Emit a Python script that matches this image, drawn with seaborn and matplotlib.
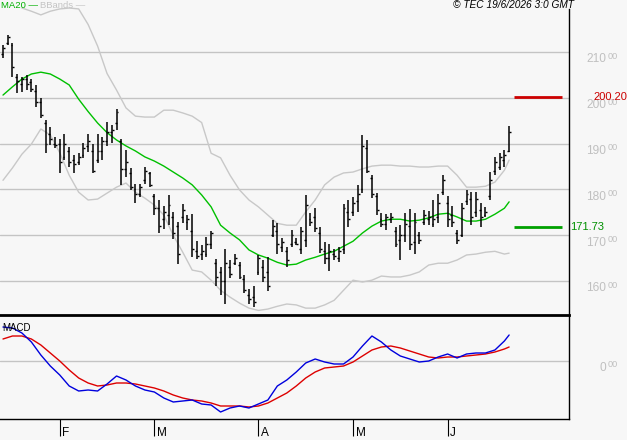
import numpy as np
import pandas as pd
import matplotlib
matplotlib.use("Agg")
import matplotlib.pyplot as plt
import matplotlib.transforms as mtransforms
import seaborn as sns

sns.set_style("white")
plt.rcParams['font.family'] = ['Liberation Sans', 'DejaVu Sans']

# ---------------- data (trading-day index 0 = 15 Jan 2026) ----------------
high = [211.5, 213.8, 211.9, 205.3, 204.6, 205.0, 204.2, 202.9, 199.9, 195.1,
        193.7, 191.5, 191.1, 192.0, 189.2, 187.5, 188.0, 190.1, 192.2, 189.9,
        192.1, 191.5, 194.7, 194.1, 197.5, 191.1, 188.6, 184.6, 181.3, 181.3,
        185.0, 183.9, 178.9, 177.8, 176.4, 178.8, 175.1, 172.8, 176.9, 174.4,
        174.6, 168.8, 167.9, 169.7, 171.0, 164.9, 163.1, 167.1, 164.6, 166.0,
        164.2, 161.3, 158.2, 158.9, 165.7, 164.6, 165.3, 173.3, 172.6, 169.3,
        167.5, 171.1, 169.3, 171.9, 178.8, 174.8, 175.9, 171.9, 168.6, 168.1,
        167.1, 167.5, 176.9, 177.7, 178.4, 180.9, 191.9, 190.8, 183.1, 179.3,
        174.8, 174.6, 174.8, 171.9, 172.2, 174.8, 175.7, 174.8, 170.8, 175.5,
        175.3, 177.8, 178.9, 183.1, 178.6, 176.4, 171.1, 177.1, 179.9, 179.5,
        179.5, 177.0, 176.2, 183.9, 187.1, 188.0, 188.6, 193.8]
low = [208.8, 211.6, 204.6, 201.0, 201.3, 201.7, 201.3, 198.1, 195.5, 187.9,
       189.7, 189.0, 183.7, 186.4, 184.8, 183.5, 185.3, 186.8, 188.2, 183.5,
       185.7, 186.4, 189.5, 190.1, 193.0, 181.0, 182.8, 179.9, 177.0, 178.3,
       181.3, 180.5, 174.4, 170.4, 171.3, 172.2, 169.1, 163.7, 172.6, 171.1,
       165.3, 164.9, 164.6, 165.3, 167.1, 158.9, 156.9, 155.1, 160.6, 163.5,
       160.4, 157.3, 155.1, 154.4, 161.3, 159.9, 157.9, 169.7, 166.0, 166.4,
       163.1, 167.5, 167.9, 166.0, 167.5, 172.0, 170.8, 166.2, 163.7, 162.3,
       164.7, 164.2, 165.9, 171.7, 174.2, 175.1, 179.3, 183.5, 178.1, 174.4,
       171.9, 171.1, 172.6, 167.5, 164.7, 168.6, 166.8, 166.0, 168.2, 172.2,
       172.2, 171.7, 172.6, 178.8, 171.7, 171.9, 168.0, 169.7, 176.6, 172.2,
       174.0, 171.7, 174.0, 177.7, 183.1, 184.2, 184.9, 188.2]
open_ = [209.5, 212.0, 211.5, 204.5, 203.0, 204.0, 203.5, 201.5, 199.0, 194.5,
         192.0, 190.0, 190.0, 187.0, 188.5, 186.5, 186.0, 187.5, 189.5, 188.5,
         186.5, 188.5, 190.5, 192.5, 194.5, 190.5, 184.5, 183.5, 180.0, 179.0,
         182.0, 183.5, 178.5, 176.0, 173.5, 174.5, 174.0, 172.0, 174.0, 173.0,
         171.0, 166.5, 166.0, 166.0, 168.0, 164.0, 162.0, 160.0, 163.0, 164.0,
         163.5, 160.5, 157.0, 156.5, 162.0, 163.0, 162.0, 170.0, 171.0, 167.5,
         166.5, 168.0, 168.5, 167.0, 169.0, 173.5, 174.0, 170.5, 166.5, 165.0,
         166.0, 165.0, 167.0, 175.0, 175.0, 177.5, 180.0, 189.0, 182.5, 178.5,
         173.5, 172.5, 173.5, 171.0, 169.0, 170.0, 172.0, 168.5, 170.0, 173.0,
         173.5, 172.5, 174.0, 179.5, 177.0, 174.5, 170.5, 170.0, 177.5, 178.0,
         175.0, 175.5, 174.5, 178.5, 184.0, 185.0, 186.5, 188.5]
close = [210.8, 213.2, 206.7, 203.6, 204.0, 203.0, 202.0, 199.0, 196.3, 190.0,
         191.0, 189.8, 186.0, 190.0, 186.0, 185.5, 187.0, 189.0, 190.5, 184.0,
         188.5, 190.5, 192.5, 193.0, 197.0, 184.5, 186.0, 180.5, 179.0, 180.5,
         184.0, 181.0, 176.0, 172.0, 175.0, 176.5, 170.5, 166.0, 175.5, 173.5,
         167.0, 165.5, 166.5, 168.0, 170.5, 161.0, 160.0, 164.0, 161.5, 165.0,
         161.0, 158.0, 156.0, 155.5, 165.0, 161.0, 159.0, 172.0, 168.0, 168.5,
         164.5, 170.0, 168.2, 171.0, 176.5, 173.0, 171.5, 167.0, 165.0, 166.5,
         165.5, 166.5, 176.0, 173.5, 177.0, 179.0, 189.5, 184.0, 179.0, 175.5,
         172.5, 174.0, 174.0, 168.0, 170.0, 172.5, 168.0, 173.0, 169.0, 174.5,
         174.0, 173.5, 177.0, 182.0, 173.5, 173.0, 169.0, 176.0, 179.0, 174.0,
         178.0, 174.0, 175.0, 182.0, 186.0, 187.0, 187.5, 192.5]

# indicator samples (every second trading day)
ind_x = [0, 2, 4, 6, 8, 10, 12, 14, 16, 18, 20, 22, 24, 26, 28, 30, 32, 34, 36,
         38, 40, 42, 44, 46, 48, 50, 52, 54, 56, 58, 60, 62, 64, 66, 68, 70, 72,
         74, 76, 78, 80, 82, 84, 86, 88, 90, 92, 94, 96, 98, 100, 102, 104, 106, 107]
ma20 = [200.6, 202.4, 204.1, 205.2, 205.6, 205.2, 204.1, 202.8, 199.7, 197.0,
        194.5, 192.4, 190.8, 189.5, 188.4, 187.1, 186.2, 185.1, 183.8, 182.5,
        181.0, 178.8, 176.2, 172.2, 170.5, 169.0, 166.8, 165.7, 165.0, 164.1,
        163.5, 163.7, 164.6, 165.2, 165.9, 166.5, 167.6, 168.7, 170.5, 172.0,
        173.1, 173.5, 173.5, 173.1, 173.3, 173.8, 174.6, 174.8, 174.0, 173.1,
        173.1, 173.5, 174.6, 175.9, 177.3]
bb_up = [None, None, 219.6, 218.9, 218.1, 218.9, 219.4, 219.6, 219.4, 216.0,
         211.3, 205.3, 201.7, 197.8, 196.0, 195.8, 195.8, 197.3, 197.3, 196.7,
         196.0, 194.6, 187.9, 186.9, 183.1, 179.9, 177.7, 176.2, 174.4, 172.6,
         172.2, 172.2, 175.1, 177.7, 181.0, 182.7, 183.6, 183.8, 184.5, 185.1,
         185.3, 185.3, 185.1, 185.1, 184.9, 184.9, 185.1, 185.1, 183.1, 180.5,
         180.5, 180.7, 181.6, 184.2, 186.4]
bb_low = [182.0, 184.7, 187.7, 189.9, 193.2, 191.9, 188.0, 183.1, 179.4, 177.7,
          177.9, 179.2, 180.5, 181.4, 179.4, 178.1, 176.6, 174.4, 170.0, 166.3,
          162.4, 162.0, 160.2, 158.0, 156.5, 155.2, 154.1, 153.6, 153.9, 154.5,
          155.0, 154.8, 154.1, 154.1, 154.8, 155.8, 158.0, 160.2, 159.8, 160.2,
          161.1, 160.9, 160.9, 161.3, 162.0, 163.5, 163.9, 163.9, 164.6, 165.7,
          165.9, 166.3, 166.5, 165.9, 166.1]
macd = [6.8, 6.6, 5.6, 3.8, 1.2, -1.0, -2.8, -5.0, -6.0, -5.8,
        -6.0, -4.6, -3.0, -3.8, -5.0, -5.8, -6.2, -7.4, -8.2, -8.0,
        -7.8, -8.6, -8.8, -10.2, -9.4, -9.0, -9.4, -8.6, -7.8, -5.0,
        -3.8, -2.2, -0.4, 0.4, -0.2, -0.6, -0.6, 0.8, 3.0, 5.0,
        3.8, 2.2, 1.0, 0.4, -0.2, 0.0, 0.8, 1.4, 0.6, 1.4,
        1.6, 1.6, 2.2, 4.0, 5.2]
signal = [4.4, 5.0, 5.0, 4.4, 3.2, 1.6, 0.0, -1.8, -3.4, -4.4,
          -5.0, -4.8, -4.4, -4.4, -4.6, -5.0, -5.4, -6.0, -6.8, -7.4,
          -7.8, -8.0, -8.4, -9.0, -9.0, -9.0, -9.2, -9.0, -8.4, -7.4,
          -6.4, -5.0, -3.4, -2.2, -1.4, -1.2, -1.0, -0.2, 1.0, 2.2,
          2.8, 3.0, 2.6, 2.0, 1.4, 0.8, 0.6, 0.8, 0.8, 1.0,
          1.2, 1.4, 1.8, 2.4, 2.8]

month_pos = [12, 32, 54, 74, 94]
month_lab = ["F", "M", "A", "M", "J"]
price_ticks = [160, 170, 180, 190, 200, 210]
price_tick_labels = ["160", "170", "180", "190", "200", "210"]
level_red = 200.20
level_green = 171.73
stamp = "© TEC 19/6/2026 3:0 GMT"

# ---------------- figure ----------------
W, H = 627, 440
BG = '#f7f7f7'
fig = plt.figure(figsize=(W / 100, H / 100), dpi=100, facecolor=BG)
ax = fig.add_axes([0, 1 - 315 / H, 569 / W, 315 / H], facecolor=BG)
ax2 = fig.add_axes([0, 1 - 419 / H, 569 / W, 104 / H], facecolor=BG)

XL = (-0.634, 119.66)
ax.set_xlim(*XL)
ax2.set_xlim(*XL)
ax.set_ylim(152.6, 221.35)
ax2.set_ylim(-11.6, 9.2)

GRID = '#c4c4c4'
for v in price_ticks:
    ax.axhline(v, color=GRID, lw=1.0, zorder=0)
ax2.axhline(0, color=GRID, lw=1.0, zorder=0)

df = pd.DataFrame({'x': ind_x, 'ma': ma20, 'up': bb_up, 'lo': bb_low,
                   'macd': macd, 'sig': signal})
df['up'] = pd.to_numeric(df['up'])

sns.lineplot(data=df, x='x', y='up', ax=ax, color='#c8c8c8', lw=1.0, legend=False)
sns.lineplot(data=df, x='x', y='lo', ax=ax, color='#c8c8c8', lw=1.0, legend=False)
sns.lineplot(data=df, x='x', y='ma', ax=ax, color='#00c000', lw=1.0, legend=False)

days = np.arange(len(high))
ax.vlines(days, low, high, color='black', lw=1.1, zorder=3)
ax.hlines(open_, days - 0.4, days, color='black', lw=1.0, zorder=3)
ax.hlines(close, days, days + 0.4, color='black', lw=1.0, zorder=3)

# levels
ax.hlines(level_red, 108.0, 118.2, color='#cc0000', lw=2.0, zorder=3)
ax.hlines(level_green, 108.0, 118.2, color='#00a000', lw=2.0, zorder=3)

# MACD
sns.lineplot(data=df, x='x', y='sig', ax=ax2, color='#dd0000', lw=1.0, legend=False)
sns.lineplot(data=df, x='x', y='macd', ax=ax2, color='#0000dd', lw=1.0, legend=False)

# axes styling
for a in (ax, ax2):
    a.set_xlabel('')
    a.set_ylabel('')
    a.set_yticks([])
    a.spines['left'].set_visible(False)
ax.spines['top'].set_visible(False)
ax.spines['bottom'].set_visible(False)
ax.spines['right'].set_color('black')
ax.spines['right'].set_linewidth(1.0)
ax.spines['right'].set_bounds(152.6, 221.35 - 9 / 4.58)
ax.set_xticks([])
for s in ('top', 'bottom', 'right'):
    ax2.spines[s].set_color('black')
ax2.spines['top'].set_linewidth(2.0)
ax2.spines['bottom'].set_linewidth(1.0)
ax2.spines['right'].set_linewidth(1.0)
ax2.set_xticks(month_pos)
ax2.set_xticklabels([])
ax2.tick_params(axis='x', direction='out', length=12.5, width=0.8, color='black',
                bottom=True)

# month labels beside ticks
tb = mtransforms.blended_transform_factory(ax2.transData, ax2.transAxes)
for p, lab in zip(month_pos, month_lab):
    ax2.text(p + 0.55, -19.5 / 104, lab, transform=tb, ha='left', va='bottom',
             fontsize=8.5, color='black')

# price labels on the right: main digits + small raised "00"
LBL = '#c0c0c0'
tr = mtransforms.blended_transform_factory(ax.transAxes, ax.transData)
for v, lab in zip(price_ticks, price_tick_labels):
    ax.text(606 / 569, v - 0.28, lab, transform=tr, ha='right', va='top',
            fontsize=8.6, color=LBL, clip_on=False)
    ax.text(607.5 / 569, v + 0.05, "00", transform=tr, ha='left', va='top',
            fontsize=6.6, color=LBL, clip_on=False)
tr2 = mtransforms.blended_transform_factory(ax2.transAxes, ax2.transData)
ax2.text(606 / 569, -0.14, "0", transform=tr2, ha='right', va='top',
         fontsize=8.6, color=LBL, clip_on=False)
ax2.text(607.5 / 569, 0.2, "00", transform=tr2, ha='left', va='top',
         fontsize=6.6, color=LBL, clip_on=False)

ax.text(593 / 569, level_red, f"{level_red:.2f}", transform=tr, ha='left',
        va='center', fontsize=8, color='#cc0000', clip_on=False)
ax.text(570 / 569, level_green, f"{level_green:.2f}", transform=tr, ha='left',
        va='center', fontsize=8, color='#009000', clip_on=False)

# legend & stamp
ax.text(1 / 569, 1 - 1 / 315, "MA20 —", transform=ax.transAxes, ha='left', va='top',
        fontsize=6.8, color='#00b000')
ax.text(40.5 / 569, 1 - 1 / 315, "BBands —", transform=ax.transAxes, ha='left', va='top',
        fontsize=6.8, color='#c4c4c4')
ax.text(574 / 569, 1 - 0.5 / 315, stamp, transform=ax.transAxes, ha='right', va='top',
        fontsize=7.3, style='italic', color='black', clip_on=False)
ax2.text(2 / 569, 1 - 8 / 104, "MACD", transform=ax2.transAxes, ha='left', va='top',
         fontsize=7, color='black')

fig.savefig("out.png", dpi=100, facecolor=BG)
